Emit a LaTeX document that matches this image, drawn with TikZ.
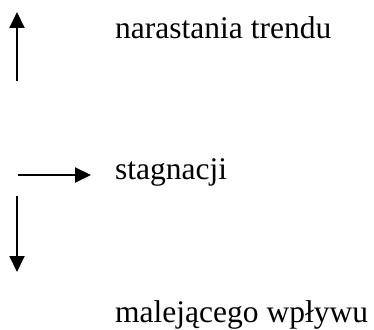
\documentclass[tikz,border=0pt]{standalone}
\usepackage{fontspec}
\setmainfont{Liberation Serif}
\usetikzlibrary{arrows.meta}
\begin{document}
\begin{tikzpicture}[x=1pt,y=-1pt,
  lbl/.style={anchor=base west,inner sep=0pt,font=\fontsize{31.5}{36}\selectfont},
  arr/.style={line width=2pt,-{Triangle[length=16pt,width=15pt]}}]
\useasboundingbox (0,0) rectangle (374,329);
\coordinate (u0) at (17,81);
\coordinate (u1) at (17,12);
\coordinate (h0) at (18,175);
\coordinate (h1) at (91,175);
\coordinate (d0) at (17,196);
\coordinate (d1) at (17,272);
\draw[arr] (u0) -- (u1);
\draw[arr] (h0) -- (h1);
\draw[arr] (d0) -- (d1);
\node[lbl] (t1) at (115,38) {narastania trendu};
\node[lbl] (t2) at (115,179) {stagnacji};
\node[lbl] (t3) at (115,322) {malejącego wpływu};
\end{tikzpicture}
\end{document}
